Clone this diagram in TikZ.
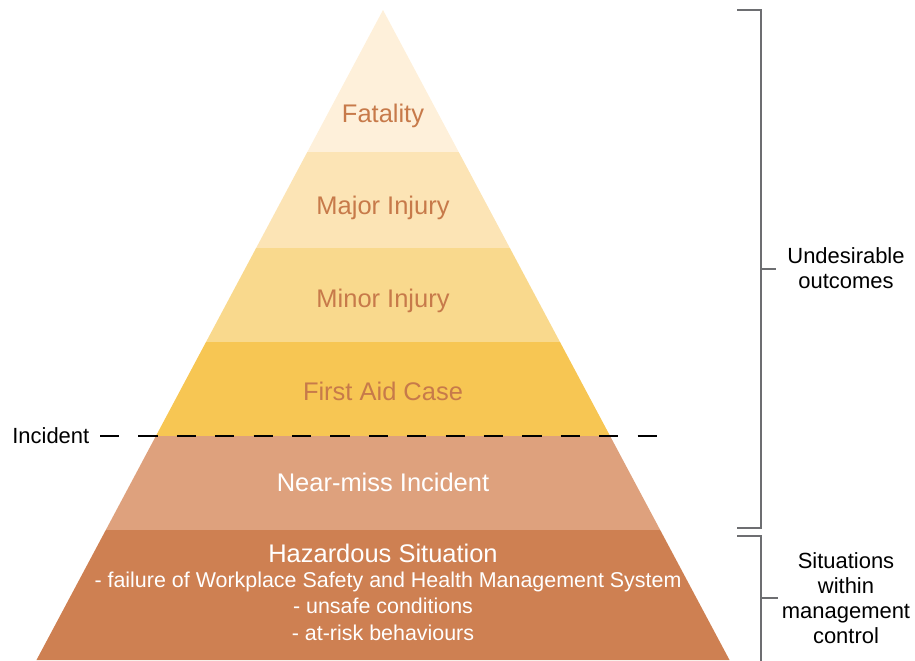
\documentclass[tikz,border=0pt]{standalone}
\usepackage{fontspec}
\setmainfont{Liberation Sans}
\usetikzlibrary{positioning}

\definecolor{fatal}{HTML}{FEF0DA}
\definecolor{major}{HTML}{FCE4B5}
\definecolor{minor}{HTML}{F9D98D}
\definecolor{firstaid}{HTML}{F7C653}
\definecolor{nearmiss}{HTML}{DEA17D}
\definecolor{hazard}{HTML}{CE8052}
\definecolor{txtbrown}{HTML}{C77A4A}
\definecolor{bracegray}{HTML}{6D6E71}

\begin{document}
\begin{tikzpicture}[x=0.02cm,y=-0.02cm]
  \tikzstyle{level}=[font=\fontsize{14.5}{17}\selectfont,text=txtbrown,inner sep=0pt,anchor=base]
  \tikzstyle{sub}=[font=\fontsize{12.2}{14}\selectfont,text=white,inner sep=0pt,anchor=base]
  \tikzstyle{side}=[font=\fontsize{12.5}{14.2}\selectfont,align=center,inner sep=0pt]
  \tikzstyle{brace}=[draw=bracegray,line width=0.04cm]
  \tikzstyle{cutline}=[line width=0.04cm,dash pattern=on 0.384cm off 0.384cm]
  \useasboundingbox (0,0) rectangle (915,660);

  % Layers
  \foreach \ya/\yb/\col in {10/152/fatal,152/248/major,248/342/minor,
                            342/436/firstaid,436/530/nearmiss,530/660/hazard}{
    \pgfmathsetmacro\wa{0.5331*(\ya-10)}
    \pgfmathsetmacro\wb{0.5331*(\yb-10)}
    \fill[\col] (383-\wa,\ya) -- (383+\wa,\ya) -- (383+\wb,\yb) -- (383-\wb,\yb) -- cycle;
  }

  % Labels
  \node[level] (fat) at (383,122) {Fatality};
  \node[level] (maj) at (383,214) {Major Injury};
  \node[level] (min) at (383,307) {Minor Injury};
  \node[level] (fac) at (383,400) {First Aid Case};
  \node[level,text=white] (nmi) at (383,491) {Near-miss Incident};
  \node[level,text=white] (haz) at (383,562) {Hazardous Situation};
  \node[sub] (fail) at (388,587) {- failure of Workplace Safety and Health Management System};
  \node[sub] (uns) at (383,613) {- unsafe conditions};
  \node[sub] (risk) at (383,640) {- at-risk behaviours};

  % Incident line
  \node[side,anchor=west] (inc) at (12,436) {Incident};
  \coordinate (cl) at (100,436);
  \coordinate (cr) at (657,436);
  \draw[cutline] (cl) -- (cr);

  % Brackets
  \coordinate (ua) at (737,10);
  \coordinate (ub) at (737,528);
  \coordinate (um) at (761,269);
  \coordinate (sa) at (737,536);
  \coordinate (sb) at (761,662);
  \coordinate (sm) at (761,598);
  \draw[brace] (ua) -| (ub -| um) -- (ub);
  \draw[brace] (um) -- ++(15,0);
  \draw[brace] (sa) -| (sb);
  \draw[brace] (sm) -- ++(17,0);
  \node[side] (und) at (846,268) {Undesirable\\outcomes};
  \node[side] (sit) at (846,598) {Situations\\within\\management\\control};
\end{tikzpicture}
\end{document}
